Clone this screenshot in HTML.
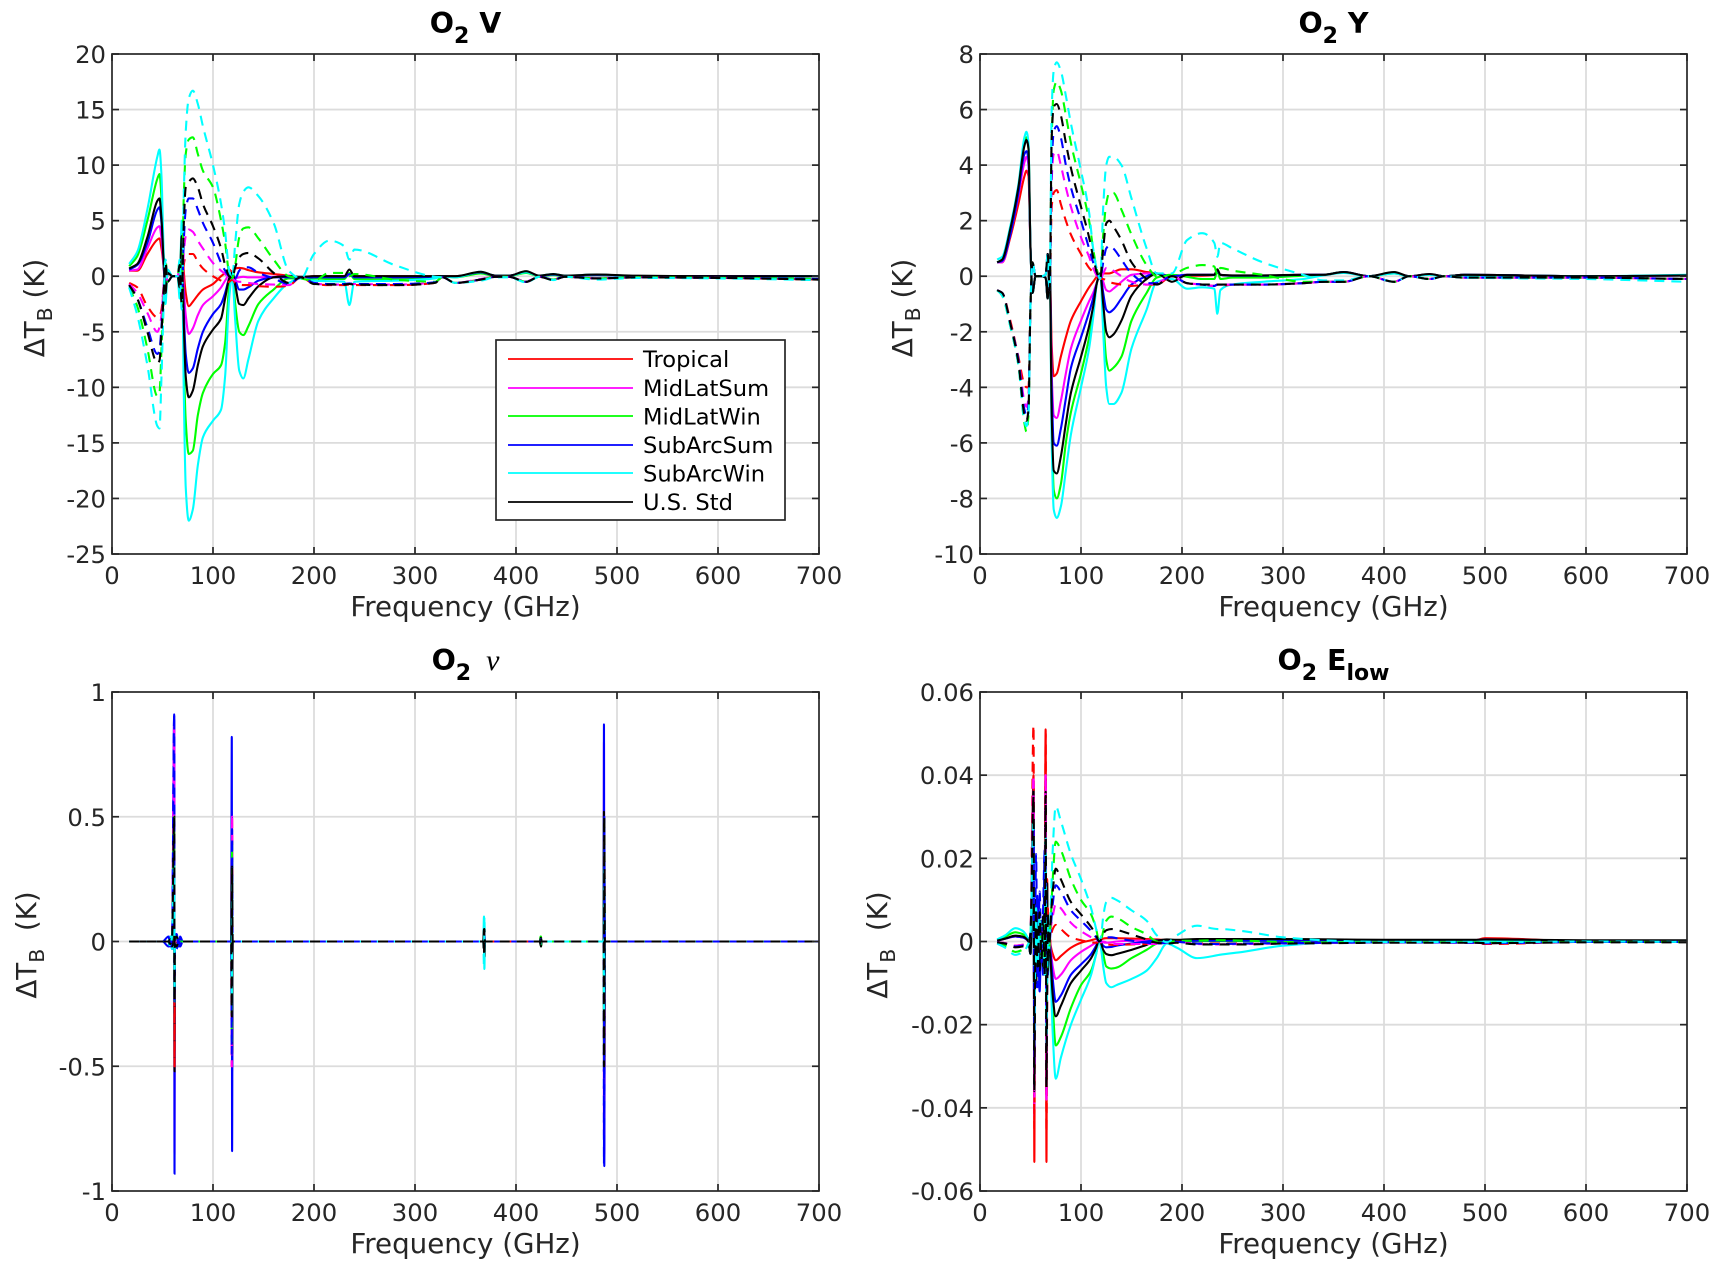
<!DOCTYPE html>
<html lang="en">
<head>
<meta charset="utf-8">
<title>O2 line parameter sensitivity</title>
<style>
html,body{margin:0;padding:0;background:#fff;}
#figure{display:block;width:1726px;height:1274px;}
text{font-family:"DejaVu Sans","Liberation Sans",sans-serif;fill:#262626;}
.tick{font-size:24.3px;}
.axis-label{font-size:27.7px;}
.title{font-size:28.5px;font-weight:bold;fill:#000;}
.legend-text{font-size:22.6px;fill:#000;}
</style>
</head>
<body>
<svg id="figure" xmlns="http://www.w3.org/2000/svg" width="1726" height="1274" viewBox="0 0 1726 1274">
  <rect x="0" y="0" width="1726" height="1274" fill="#fff"/>
  <defs>
    <clipPath id="clip-v"><rect x="112" y="54" width="707" height="500"/></clipPath>
    <clipPath id="clip-y"><rect x="980" y="54" width="707" height="500"/></clipPath>
    <clipPath id="clip-n"><rect x="112" y="692" width="707" height="499"/></clipPath>
    <clipPath id="clip-e"><rect x="980" y="692" width="707" height="499"/></clipPath>
  </defs>
  <g id="panel-v"></g>
  <g id="panel-y"></g>
  <g id="panel-n"></g>
  <g id="panel-e"></g>

  <text class="title" x="465.5" y="33" text-anchor="middle">O<tspan dy="10" font-size="22">2</tspan><tspan dy="-10"> V</tspan></text>
  <text class="title" x="1333.5" y="33" text-anchor="middle">O<tspan dy="10" font-size="22">2</tspan><tspan dy="-10"> Y</tspan></text>
  <text class="title" x="465.5" y="670" text-anchor="middle">O<tspan dy="10" font-size="22">2</tspan><tspan dy="-10" style="font-family:'Liberation Serif',serif;font-style:italic;font-weight:normal;font-size:30px">&#160;&#160;ν</tspan></text>
  <text class="title" x="1333.5" y="670" text-anchor="middle">O<tspan dy="10" font-size="22">2</tspan><tspan dy="-10"> E</tspan><tspan dy="10" font-size="22">low</tspan></text>

  <text class="axis-label" x="465.5" y="616" text-anchor="middle">Frequency (GHz)</text>
  <text class="axis-label" x="1333.5" y="616" text-anchor="middle">Frequency (GHz)</text>
  <text class="axis-label" x="465.5" y="1253" text-anchor="middle">Frequency (GHz)</text>
  <text class="axis-label" x="1333.5" y="1253" text-anchor="middle">Frequency (GHz)</text>

  <text class="axis-label" text-anchor="middle" transform="translate(44,308) rotate(-90)">ΔT<tspan dy="8" font-size="20.5">B</tspan><tspan dy="-8"> (K)</tspan></text>
  <text class="axis-label" text-anchor="middle" transform="translate(912,308) rotate(-90)">ΔT<tspan dy="8" font-size="20.5">B</tspan><tspan dy="-8"> (K)</tspan></text>
  <text class="axis-label" text-anchor="middle" transform="translate(36,945) rotate(-90)">ΔT<tspan dy="8" font-size="20.5">B</tspan><tspan dy="-8">&#160;&#160;(K)</tspan></text>
  <text class="axis-label" text-anchor="middle" transform="translate(887,945) rotate(-90)">ΔT<tspan dy="8" font-size="20.5">B</tspan><tspan dy="-8">&#160;&#160;(K)</tspan></text>

  <g id="legend">
    <rect x="496" y="340" width="289" height="180" fill="#fff" stroke="#262626" stroke-width="1.7"/>
    <line x1="508" x2="633" y1="359" y2="359" stroke="#f00" stroke-width="1.8"/>
    <text class="legend-text" x="643" y="367">Tropical</text>
    <line x1="508" x2="633" y1="388" y2="388" stroke="#f0f" stroke-width="1.8"/>
    <text class="legend-text" x="643" y="396">MidLatSum</text>
    <line x1="508" x2="633" y1="416" y2="416" stroke="#0f0" stroke-width="1.8"/>
    <text class="legend-text" x="643" y="424.5">MidLatWin</text>
    <line x1="508" x2="633" y1="445" y2="445" stroke="#00f" stroke-width="1.8"/>
    <text class="legend-text" x="643" y="453">SubArcSum</text>
    <line x1="508" x2="633" y1="473" y2="473" stroke="#0ff" stroke-width="1.8"/>
    <text class="legend-text" x="643" y="481.5">SubArcWin</text>
    <line x1="508" x2="633" y1="502" y2="502" stroke="#000" stroke-width="1.8"/>
    <text class="legend-text" x="643" y="510">U.S. Std</text>
  </g>
</svg>
<script>
const seriesNames = ['tropical','midlatsum','midlatwin','subarcsum','subarcwin','us-std'];
const seriesColors = ['#ff0000','#ff00ff','#00ff00','#0000ff','#00ffff','#000000'];
const xTickValues = [0,100,200,300,400,500,600,700];

/* ---------- O2 V ---------- */
const vFreq = [17,25,35,45,47,49,51,53,55,60, 65,67,69,71,73,76,80,85,90,100, 108,112,116,119,122,126,130,135,145,160, 175,187,200,215,230,235,240,280,320,327, 340,365,380,393,410,423,437,448,480,520,600,700];
const vYTicks = [-25,-20,-15,-10,-5,0,5,10,15,20];
const vTropicalSolid = [.5,.5,2,3.3,3.4,2.5,1,-1,.3,0, 0,-1,3,.5,-1.5,-2.7,-2.3,-1.7,-1.2,-.7, 0,.3,.6,.4,.7,.75,.7,.55,.35,.2, .05,-.1,0,0,0,.1,0,0,0,0, 0,.3,.05,.05,.35,.03,.15,.03,.15,0,0,0];
const vMidLatSumSolid = [.5,.6,2.5,4.4,4.5,3.4,1,-1.5,.3,0, 0,-1,3,-1,-3.5,-5.2,-4.7,-3.5,-2.6,-1.8, -1,-.4,.1,-.3,-.2,-.1,-.05,-.1,-.1,-.05, .05,-.1,-.1,-.1,-.1,.1,-.1,-.1,-.05,0, -.05,.3,.05,.05,.35,.03,.15,.03,.1,0,0,0];
const vMidLatWinSolid = [.9,1.8,5,8.8,9.2,7,2,-2,.5,0, 0,-1.5,4,-7,-13,-16,-15.7,-12.5,-10.5,-8.8, -8,-6,-1,.3,-2.5,-5,-5.3,-4.5,-2.5,-1.2, -.2,-.2,-.2,-.25,-.25,.3,-.25,-.3,-.1,0, -.1,.25,.02,.02,.3,0,.1,0,.1,0,-.05,0];
const vSubArcSumSolid = [.6,1,3,6,6.2,4.8,1.5,-1.5,.3,0, 0,-1,3,-3,-7,-8.7,-8.3,-6.5,-5,-3.4, -2.5,-1.5,-.2,.3,-.3,-1.2,-1.2,-1,-.4,-.1, -.1,-.15,-.1,-.1,-.1,.2,-.1,-.1,-.05,0, -.05,.35,.05,.05,.4,.03,.15,.03,.1,0,0,0];
const vSubArcWinSolid = [1.1,2.2,6,10.8,11.4,9,2.5,-2.5,.6,0, 0,-2,5,-10,-19,-22,-21,-17,-14.5,-13, -12,-9,-2,0,-4,-8.5,-9.2,-7.5,-4,-2, -.6,-.2,-.4,-.45,-.5,-2.6,-.5,-.4,-.2,0, -.1,.4,.05,.05,.35,.05,.2,.05,.15,0,-.05,0];
const vUSStdSolid = [.7,1.1,3.5,6.8,7,5.2,1.5,-1.5,.3,0, 0,-1,3.6,-4,-9,-10.9,-10.3,-8,-6.3,-4.8, -3.8,-2,-.2,.3,-.8,-2.5,-2.6,-2,-.9,-.1, 0,-.05,0,0,0,.6,0,0,0,0, 0,.4,.05,.05,.45,.05,.2,.05,.15,.05,0,0];
const vTropicalDashed = [-.6,-1,-2.7,-3.7,-3.6,-3,-1,1,-.5,0, 0,1,-2,1,1.8,2,2,1.3,.7,0, -.4,-.6,-.5,-.3,-.6,-.75,-.8,-.8,-.9,-.95, -.85,-.1,-.7,-.8,-.8,-.75,-.8,-.8,-.6,-.1, -.6,-.3,-.05,-.05,-.5,-.05,-.3,-.05,-.2,-.1,-.15,-.3];
const vMidLatSumDashed = [-.7,-1.5,-3.3,-5,-4.6,-3.5,-1,1.2,-.5,0, 0,1,-2,2,3.6,4.2,4,3.2,2.5,1.2, .5,.2,-.2,-.2,-.4,-.5,-.5,-.6,-.7,-.75, -.8,-.1,-.65,-.75,-.75,-.7,-.7,-.75,-.55,-.1, -.6,-.25,-.05,-.05,-.45,-.05,-.3,-.05,-.2,-.1,-.15,-.25];
const vMidLatWinDashed = [-1,-2.7,-6.5,-10.8,-10.5,-6.5,-2,1.5,-.5,0, 0,1.5,-2.5,7,11,12.3,12.5,11,9.5,8, 5,3,.3,-.2,1,3.5,4.3,4.4,3.4,1.5, 0,-.2,-.4,.3,.3,0,.2,-.3,-.5,-.1, -.6,-.35,-.05,-.05,-.5,-.05,-.3,-.05,-.2,-.1,-.15,-.25];
const vSubArcSumDashed = [-.8,-2,-4.6,-7,-6.6,-4.5,-1.5,1.2,-.5,0, 0,1,-2,3,6,7,7,6,4.8,3, 1.2,.5,0,-.1,-.2,.5,.8,.8,.3,-.2, -.7,-.1,-.6,-.7,-.7,-.65,-.7,-.7,-.55,-.1, -.6,-.3,-.05,-.05,-.5,-.05,-.3,-.05,-.2,-.1,-.15,-.25];
const vSubArcWinDashed = [-1,-3.5,-8,-13.5,-13.7,-9,-3,1.5,-.5,0, 0,1.5,-3,7,13,16,16.7,15.5,13.5,10, 6.5,4,.5,-.2,3,6.5,7.6,8,7.2,4.8, .5,-.2,2,3.2,2.7,1.5,2.4,1,-.05,-.1, -.6,-.4,-.1,-.1,-.55,-.05,-.35,-.05,-.3,-.15,-.2,-.35];
const vUSStdDashed = [-.8,-2,-5,-7.8,-7.6,-5,-2,1.2,-.5,0, 0,1,-2.5,4.5,8,8.5,8.8,8,6.5,4.5, 2.5,1,0,-.2,.8,1.7,2,2.1,1.6,.3, -.6,-.1,-.7,-.75,-.75,-.7,-.75,-.8,-.6,-.1, -.6,-.3,-.05,-.05,-.5,-.05,-.35,-.05,-.2,-.1,-.15,-.3];

/* ---------- O2 Y ---------- */
const yFreq = [17,22,30,38,44,46,48,50,52,55, 60,65,67,69,71,73,76,80,85,90, 100,108,112,116,119,122,125,128,132,140, 150,165,175,190,205,220,232,235,238,250, 280,320,340,360,385,410,425,445,460,480,600,700];
const yYTicks = [-10,-8,-6,-4,-2,0,2,4,6,8];
const yTropicalSolid = [.5,.5,1.4,2.6,3.6,3.8,3.6,1,-.6,0, 0,-.05,-.8,.5,-2.5,-3.6,-3.5,-2.9,-2.2,-1.6, -.9,-.4,-.2,0,.1,.1,.1,.1,.15,.25, .25,.15,.1,0,.02,.02,.05,.2,.05,.02, .02,.05,.05,.15,0,.12,0,.07,0,.05,0,.03];
const yMidLatSumSolid = [.5,.5,1.5,2.9,4.1,4.3,4,1,-.6,0, 0,-.05,-.8,.5,-3.5,-5,-5.1,-4.5,-3.5,-2.6, -1.6,-.9,-.6,-.2,.1,-.2,-.5,-.55,-.45,-.2, .05,.1,.1,0,.05,.05,.05,.2,.05,.02, .02,.05,.05,.15,0,.12,0,.07,0,.05,0,.03];
const yMidLatWinSolid = [.5,.6,1.6,3.2,4.8,5,4.6,1,-.6,0, 0,-.05,-.8,.5,-5,-7.7,-8,-7.5,-6,-4.9, -3.5,-2.2,-1.3,-.2,.1,-1.5,-3,-3.4,-3.3,-2.9, -1.6,-.6,-.05,.05,-.02,-.1,-.1,.2,-.1,-.05, -.05,.02,.05,.15,0,.1,0,.06,0,.05,0,.03];
const ySubArcSumSolid = [.5,.55,1.5,3,4.4,4.5,4.2,1,-.6,0, 0,-.05,-.8,.5,-4,-6,-6.1,-5.5,-4.4,-3.3, -2.2,-1.3,-.8,-.2,.1,-.6,-1.2,-1.3,-1.2,-.8, -.3,0,.1,0,.05,.05,.05,.2,.05,.02, .02,.05,.05,.15,0,.12,0,.07,0,.05,0,.03];
const ySubArcWinSolid = [.6,.7,1.8,3.3,5,5.2,4.8,1,-.6,0, 0,-.05,-.8,.5,-6,-8.4,-8.7,-8.3,-7,-5.7, -4,-2.6,-1.5,-.2,.1,-2,-4,-4.6,-4.6,-4.2, -2.6,-1.2,-.2,-.1,-.45,-.4,-.45,-1.35,-.5,-.3, -.2,-.1,.03,.12,0,.1,0,.05,0,.03,0,.05];
const yUSStdSolid = [.5,.6,1.7,3.2,4.7,4.9,4.6,1,-.6,0, 0,-.05,-.8,.5,-5,-7,-7.1,-6.5,-5.3,-4.2, -2.9,-1.8,-1.1,-.2,.1,-1,-2,-2.2,-2.1,-1.6, -.7,-.1,.1,-.2,.05,.05,.05,.25,.05,.03, .03,.05,.05,.15,0,.15,0,.08,0,.05,0,.03];
const yTropicalDashed = [-.5,-.6,-1.6,-2.9,-3.9,-4,-4,-1,.5,0, 0,.05,.8,-.5,2.5,3,3.1,2.6,2,1.5, .8,.3,.15,0,-.1,-.1,-.15,-.2,-.25,-.3, -.35,-.3,-.3,0,-.25,-.3,-.35,-.3,-.35,-.3, -.3,-.25,-.2,-.2,0,-.2,0,-.1,0,-.05,-.05,-.1];
const yMidLatSumDashed = [-.5,-.6,-1.7,-3,-4.5,-4.7,-4.4,-1,.5,0, 0,.05,.8,-.5,3.5,4.4,4.5,4,3.2,2.5, 1.4,.7,.3,0,-.1,.1,.3,.3,.2,0, -.2,-.3,-.25,0,-.25,-.3,-.35,-.3,-.3,-.3, -.3,-.25,-.2,-.2,0,-.2,0,-.1,0,-.05,-.05,-.1];
const yMidLatWinDashed = [-.5,-.7,-1.8,-3.2,-5.3,-5.6,-5,-1,.5,0, 0,.05,.8,-.5,5,6.7,7,6.7,5.8,4.8, 3.3,2,1,.2,-.1,1.5,2.6,3,3,2.4, 1.5,.4,0,.05,.3,.4,.35,.05,.3,.2, .05,-.2,-.2,-.2,0,-.2,0,-.1,0,-.05,-.05,-.1];
const ySubArcSumDashed = [-.5,-.6,-1.7,-3,-4.8,-5,-4.6,-1,.5,0, 0,.05,.8,-.5,4,5.2,5.4,5,4,3.2, 2,1,.5,.1,-.1,.5,1,1.1,1,.6, .1,-.25,-.25,0,-.25,-.3,-.35,-.3,-.3,-.3, -.3,-.25,-.2,-.2,0,-.2,0,-.1,0,-.05,-.05,-.1];
const ySubArcWinDashed = [-.5,-.7,-1.8,-3.2,-5.2,-5.4,-5,-1,.5,0, 0,.05,.8,-.5,6,7.4,7.7,7.4,6.5,5.5, 3.8,2.3,1,.2,-.1,2.5,4,4.3,4.3,4, 2.8,1,.1,.1,1.3,1.55,1.2,.7,1.2,1, .5,.05,-.15,-.15,0,-.2,0,-.1,0,-.05,-.1,-.2];
const yUSStdDashed = [-.5,-.6,-1.7,-3.1,-5,-5.2,-4.8,-1,.5,0, 0,.05,.8,-.5,5,6.1,6.2,5.8,4.8,3.9, 2.5,1.4,.7,.1,-.1,1,1.9,2,1.8,1.3, .5,-.1,-.3,0,-.25,-.3,-.3,-.3,-.3,-.3, -.3,-.25,-.2,-.2,0,-.2,0,-.1,0,-.05,-.05,-.1];

/* ---------- O2 nu ---------- */
const nFreq = [17,50,56,57.5,59.5,61.6,61.9,62.2,64,66, 67.5,70,118,118.6,118.9,119.4,200,300,367.6,368.3, 368.7,369.2,423.6,424.4,424.7,425.4,486.8,487.1,487.4,488, 600,700];
const nYTicks = [-1,-0.5,0,0.5,1];
const nYTickLabels = ['-1','-0.5','0','0.5','1'];
const nTropicalSolid = [0,0,0,.01,-.01,.5,-.5,0,.01,0, 0,0,0,.5,-.5,0,0,0,0,.01, -.01,0,0,.005,-.005,0,0,.4,-.4,0, 0,0];
const nMidLatSumSolid = [0,0,0,.01,-.01,.85,-.85,0,.01,0, 0,0,0,.52,-.52,0,0,0,0,.02, -.02,0,0,.005,-.005,0,0,.8,-.85,0, 0,0];
const nMidLatWinSolid = [0,0,0,.02,-.02,.5,-.5,0,.02,0, 0,0,0,.4,-.4,0,0,0,0,.03, -.03,0,0,.02,-.02,0,0,.5,-.5,0, 0,0];
const nSubArcSumSolid = [0,0,-.02,.02,-.03,.91,-.93,.02,.03,-.02, .02,0,0,.82,-.84,0,0,0,0,.03, -.03,0,0,.01,-.01,0,0,.87,-.9,0, 0,0];
const nSubArcWinSolid = [0,0,0,.02,-.03,.25,-.25,.02,.02,0, 0,0,0,.25,-.25,0,0,0,0,.1, -.11,0,0,.01,-.01,0,0,.3,-.3,0, 0,0];
const nUSStdSolid = [0,0,0,.01,-.02,.5,-.52,.01,.02,0, 0,0,0,.3,-.45,0,0,0,0,.05, -.06,0,0,.015,-.02,0,0,.52,-.5,0, 0,0];
const nTropicalDashed = [0,0,0,-.01,.01,.48,-.5,0,-.01,0, 0,0,0,-.5,.5,0,0,0,0,-.01, .01,0,0,-.005,.005,0,0,-.4,.4,0, 0,0];
const nMidLatSumDashed = [0,0,0,-.01,.01,.88,-.24,0,-.01,0, 0,0,0,-.5,.5,0,0,0,0,-.02, .02,0,0,-.005,.005,0,0,-.78,.4,0, 0,0];
const nMidLatWinDashed = [0,0,0,-.02,.02,.5,-.24,0,-.02,0, 0,0,0,-.4,.4,0,0,0,0,-.03, .03,0,0,-.02,.02,0,0,-.5,.4,0, 0,0];
const nSubArcSumDashed = [0,0,.02,-.02,.03,.91,-.24,-.02,-.03,.02, -.02,0,0,-.45,.45,0,0,0,0,-.03, .03,0,0,-.01,.01,0,0,-.89,.5,0, 0,0];
const nSubArcWinDashed = [0,0,0,-.02,.03,.3,-.2,-.02,-.02,0, 0,0,0,-.25,.25,0,0,0,0,-.1, .1,0,0,-.01,.01,0,0,-.3,.3,0, 0,0];
const nUSStdDashed = [0,0,0,-.01,.02,.5,-.24,-.01,-.02,0, 0,0,0,-.3,.3,0,0,0,0,-.05, .05,0,0,-.015,.015,0,0,-.5,.5,0, 0,0];

/* ---------- O2 Elow (values in thousandths of a kelvin) ---------- */
const eFreq = [17,25,35,42,48,50,53,53.8,54.5,55.5, 57,59,61,62.5,64,65,65.8,66.5,67.2,68, 70,72,75,80,90,100,110,115,118,120, 122,125,130,135,150,165,175,185,195,215, 235,237,260,300,350,400,490,500,600,700];
const eYTicks = [-60,-40,-20,0,20,40,60];
const eYTickLabels = ['-0.06','-0.04','-0.02','0','0.02','0.04','0.06'];
const eTropicalSolid = [.2,.7,1.2,1,0,-3,40,-53,10,-10, 5,-5,3,-5,8,51,-53,15,-8,3, -1,-3,-4.5,-3.5,-1.5,-.3,.3,.6,.5,.5, .7,.8,.8,.8,.7,.6,.5,.3,0,.3, .4,.4,.4,.3,.3,.2,.3,.8,.1,.1];
const eMidLatSumSolid = [.2,.7,1.2,1,0,-3,38,-42,8,-8, 5,-5,3,-5,8,40,-38,12,-8,3, -2,-6,-9,-8,-4.5,-2.5,-1,-.2,.5,.2, -.2,-.3,-.2,0,.2,.2,.2,.2,.1,.2, .2,.2,.2,.2,.2,.2,.3,.5,.1,.1];
const eMidLatWinSolid = [.4,1.2,2.2,1.8,.2,-3,25,-25,6,-6, 5,-5,3,-5,6,24,-22,10,-6,3, -4,-15,-25,-23,-16,-10.5,-7,-3,.5,-.5, -3,-6,-6.5,-6.3,-4,-2,-.5,.2,0,.1, .1,.1,.1,.1,.2,.2,.2,.3,.1,.1];
const eSubArcSumSolid = [.2,.7,1.2,1,0,-3,30,-35,6,-11, 11,-12,5,-8,22,20,-20,10,-8,3, -3,-9,-14.5,-13,-8,-5.5,-3,-1,.5,-.3, -1,-1.4,-1.3,-1,-.5,0,.3,.2,.1,.2, .2,.2,.2,.2,.2,.2,.3,.5,.1,.1];
const eSubArcWinSolid = [.5,1.5,3.2,2.6,.3,-3,30,-30,8,-8, 6,-6,4,-6,8,25,-25,12,-6,4, -8,-22,-33,-28,-20,-14,-8,-3,.3,-2, -6,-10,-11,-10.5,-9,-7,-4,-.5,-1.5,-4, -3.3,-3.2,-2.5,-1,-.2,.1,.1,.2,0,.1];
const eUSStdSolid = [.2,.7,1.4,1.2,0,-3,37,-36,10,-10, 6,-7,4,-6,10,36,-36,14,-7,3, -5,-13,-18,-15.5,-10,-7,-4,-1.5,.5,-.5, -2,-3,-3.3,-3,-2,-.8,.2,.5,.4,.6, .6,.6,.6,.6,.5,.4,.4,.5,.3,.3];
const eTropicalDashed = [-.2,-.4,-1,-.8,-.5,2,52,-45,-8,8, -5,5,-3,5,-8,50,-46,-12,8,-3, 1,3,4,3,1,.3,-.2,-.3,0,-.3, -.6,-.7,-.8,-.8,-.7,-.6,-.5,-.3,0,-.5, -.5,-.5,-.5,-.4,-.3,-.2,-.3,-.6,-.1,-.1];
const eMidLatSumDashed = [-.2,-.4,-1,-.8,-.5,2,40,-38,-6,6, -5,5,-3,5,-6,40,-38,-10,6,-3, 3,6,9,8,4.5,2.5,1,.2,0,-.2, 0,-.2,-.5,-.6,-.6,-.6,-.6,-.3,-.1,-.6, -.7,-.7,-.6,-.5,-.3,-.2,-.3,-.4,-.1,-.1];
const eMidLatWinDashed = [-.3,-1,-2.5,-2,-.5,2,25,-25,-6,6, -5,5,-3,5,-6,24,-22,-8,6,-3, 5,15,24,22,15,10,6.5,3,0,.5, 2.5,5,6,5.7,3.5,1.7,0,-.2,.1,.2, .3,.3,.2,-.1,-.2,-.2,-.2,-.3,-.1,-.1];
const eSubArcSumDashed = [-.2,-.5,-1.2,-1,-.5,2,28,-30,-6,21, -11,12,-5,8,21,20,-20,-8,6,-3, 3,9,13.5,12,7.5,5,2.5,1,0,.2, .7,1,1,.8,.2,-.3,-.5,-.3,-.1,-.5, -.6,-.6,-.5,-.4,-.3,-.2,-.3,-.4,-.1,-.1];
const eSubArcWinDashed = [-.5,-1.5,-3.2,-2.6,-.5,2,30,-25,-8,8, -6,6,-4,6,-8,25,-25,-10,6,-3, 8,22,32.5,29,21,15,8,3,0,1.5, 6,9.5,10.5,10,7.5,5,1.5,-.2,1.5,3.8, 3,3,2.5,1,.2,-.1,-.1,-.2,0,-.1];
const eUSStdDashed = [-.2,-.5,-1.4,-1.2,-.5,2,35,-36,-8,8, -6,7,-4,6,-8,35,-35,-12,7,-3, 5,12,17.5,15,9.5,6.5,3.5,1.5,0,.5, 1.8,2.7,3,2.8,1.7,.5,-.3,-.5,-.3,-.7, -.7,-.7,-.7,-.5,-.4,-.3,-.3,-.4,-.2,-.2];

const SVG_NS = 'http://www.w3.org/2000/svg';

function makeSvg(tag, attrs, parent) {
  const node = document.createElementNS(SVG_NS, tag);
  for (const key in attrs) node.setAttribute(key, attrs[key]);
  parent.appendChild(node);
  return node;
}

/* Monotone cubic path through the plotted points: smooth, with no overshoot at extrema. */
function curvePath(xs, ys) {
  const n = xs.length;
  const slopes = [];
  for (let i = 0; i < n - 1; i++) slopes.push((ys[i + 1] - ys[i]) / (xs[i + 1] - xs[i]));
  const tangents = [slopes[0]];
  for (let i = 1; i < n - 1; i++) {
    if (slopes[i - 1] * slopes[i] <= 0) {
      tangents.push(0);
    } else {
      const h0 = xs[i] - xs[i - 1];
      const h1 = xs[i + 1] - xs[i];
      const w0 = 2 * h1 + h0;
      const w1 = h1 + 2 * h0;
      tangents.push((w0 + w1) / (w0 / slopes[i - 1] + w1 / slopes[i]));
    }
  }
  tangents.push(slopes[n - 2]);
  let d = 'M' + xs[0].toFixed(2) + ' ' + ys[0].toFixed(2);
  for (let i = 0; i < n - 1; i++) {
    const h = (xs[i + 1] - xs[i]) / 3;
    d += 'C' + (xs[i] + h).toFixed(2) + ' ' + (ys[i] + tangents[i] * h).toFixed(2) + ' ' +
         (xs[i + 1] - h).toFixed(2) + ' ' + (ys[i + 1] - tangents[i + 1] * h).toFixed(2) + ' ' +
         xs[i + 1].toFixed(2) + ' ' + ys[i + 1].toFixed(2);
  }
  return d;
}

function drawPanel(key, box, yMin, yMax, yTicks, yLabels, freq, solidSets, dashedSets) {
  const group = document.getElementById('panel-' + key);
  const xScale = function (f) { return box.x + (f / 700) * box.w; };
  const yScale = function (v) { return box.y + (yMax - v) / (yMax - yMin) * box.h; };
  const plotXs = freq.map(xScale);

  xTickValues.forEach(function (t) {
    const px = xScale(t);
    if (t > 0 && t < 700) {
      const grid = makeSvg('line', {x1: px, x2: px, y1: box.y, y2: box.y + box.h, stroke: '#dcdcdc', 'stroke-width': 1.8}, group);
      
      
    }
    const label = makeSvg('text', {class: 'tick', x: px, y: box.y + box.h + 30, 'text-anchor': 'middle'}, group);
    label.textContent = String(t);
    
    
  });
  yTicks.forEach(function (t, i) {
    const py = yScale(t);
    if (t > yMin && t < yMax) {
      const grid = makeSvg('line', {x1: box.x, x2: box.x + box.w, y1: py, y2: py, stroke: '#dcdcdc', 'stroke-width': 1.8}, group);
      
      
    }
    const label = makeSvg('text', {class: 'tick', x: box.x - 6, y: py + 9, 'text-anchor': 'end'}, group);
    label.textContent = yLabels ? yLabels[i] : String(t);
    
    
  });

  const lines = makeSvg('g', {'clip-path': 'url(#clip-' + key + ')'}, group);
  
  
  solidSets.forEach(function (values, s) {
    const line = makeSvg('path', {d: curvePath(plotXs, values.map(yScale)), fill: 'none', stroke: seriesColors[s], 'stroke-width': 2.1}, lines);
    
    
  });
  dashedSets.forEach(function (values, s) {
    const line = makeSvg('path', {d: curvePath(plotXs, values.map(yScale)), fill: 'none', stroke: seriesColors[s], 'stroke-width': 2.1, 'stroke-dasharray': '10 7'}, lines);
    
    
  });

  const tickColor = '#262626';
  const tickLength = 7;
  xTickValues.forEach(function (t) {
    const px = xScale(t);
    const lower = makeSvg('line', {x1: px, x2: px, y1: box.y + box.h, y2: box.y + box.h - tickLength, stroke: tickColor, 'stroke-width': 1.7}, group);
    
    
    const upper = makeSvg('line', {x1: px, x2: px, y1: box.y, y2: box.y + tickLength, stroke: tickColor, 'stroke-width': 1.7}, group);
    
    
  });
  yTicks.forEach(function (t) {
    const py = yScale(t);
    const left = makeSvg('line', {x1: box.x, x2: box.x + tickLength, y1: py, y2: py, stroke: tickColor, 'stroke-width': 1.7}, group);
    
    
    const right = makeSvg('line', {x1: box.x + box.w, x2: box.x + box.w - tickLength, y1: py, y2: py, stroke: tickColor, 'stroke-width': 1.7}, group);
    
    
  });
  const frame = makeSvg('rect', {x: box.x, y: box.y, width: box.w, height: box.h, fill: 'none', stroke: tickColor, 'stroke-width': 1.7}, group);
  
  
}

drawPanel('v', {x: 112, y: 54, w: 707, h: 500}, -25, 20, vYTicks, null, vFreq,
  [vTropicalSolid, vMidLatSumSolid, vMidLatWinSolid, vSubArcSumSolid, vSubArcWinSolid, vUSStdSolid],
  [vTropicalDashed, vMidLatSumDashed, vMidLatWinDashed, vSubArcSumDashed, vSubArcWinDashed, vUSStdDashed]);
drawPanel('y', {x: 980, y: 54, w: 707, h: 500}, -10, 8, yYTicks, null, yFreq,
  [yTropicalSolid, yMidLatSumSolid, yMidLatWinSolid, ySubArcSumSolid, ySubArcWinSolid, yUSStdSolid],
  [yTropicalDashed, yMidLatSumDashed, yMidLatWinDashed, ySubArcSumDashed, ySubArcWinDashed, yUSStdDashed]);
drawPanel('n', {x: 112, y: 692, w: 707, h: 499}, -1, 1, nYTicks, nYTickLabels, nFreq,
  [nTropicalSolid, nMidLatSumSolid, nMidLatWinSolid, nSubArcSumSolid, nSubArcWinSolid, nUSStdSolid],
  [nTropicalDashed, nMidLatSumDashed, nMidLatWinDashed, nSubArcSumDashed, nSubArcWinDashed, nUSStdDashed]);
drawPanel('e', {x: 980, y: 692, w: 707, h: 499}, -60, 60, eYTicks, eYTickLabels, eFreq,
  [eTropicalSolid, eMidLatSumSolid, eMidLatWinSolid, eSubArcSumSolid, eSubArcWinSolid, eUSStdSolid],
  [eTropicalDashed, eMidLatSumDashed, eMidLatWinDashed, eSubArcSumDashed, eSubArcWinDashed, eUSStdDashed]);

const legendNode = document.getElementById('legend');
legendNode.parentNode.appendChild(legendNode);
</script>
</body>
</html>
